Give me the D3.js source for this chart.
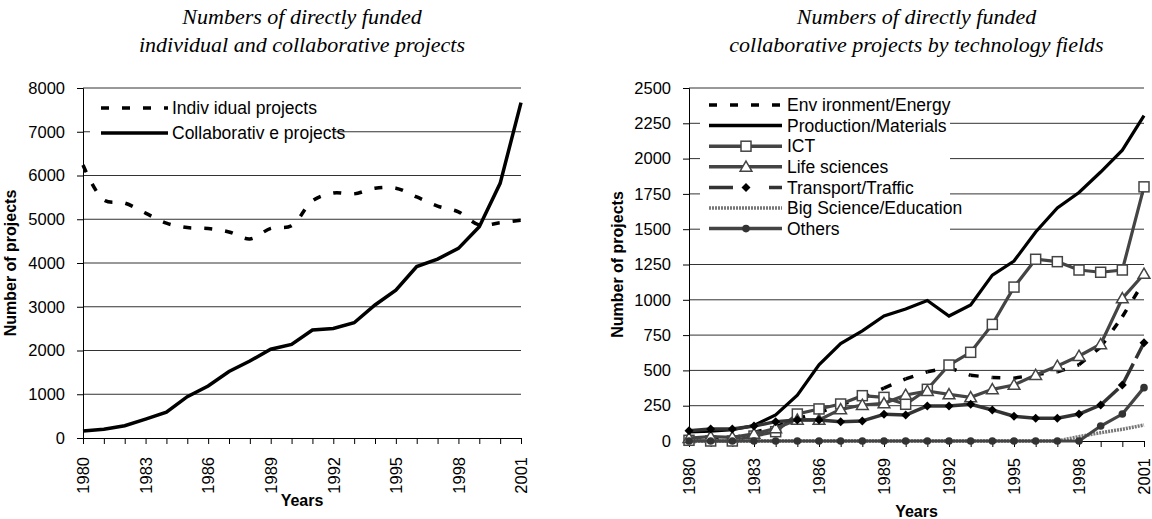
<!doctype html>
<html>
  <head>
    <script src="https://cdnjs.cloudflare.com/ajax/libs/d3/7.8.5/d3.min.js"></script>
    <style>
      body { margin: 0; background: white; }
      text { font-family: "Liberation Sans Narrow", "Arial Narrow", "Liberation Sans", sans-serif; fill: #000; }
      .tick text { font-size: 16.5px; }
      .title { font-family: "Liberation Serif", "Times New Roman", serif; font-style: italic; font-size: 22px; text-anchor: middle; }
      .axisTitle { font-family: "Liberation Sans", Arial, sans-serif; font-size: 16px; font-weight: bold; text-anchor: middle; }
      .legend text { font-size: 17.5px; }
    </style>
  </head>
  <body>
    <svg width="1152" height="519"></svg>
    <script>
      // data
      var years = [1980, 1981, 1982, 1983, 1984, 1985, 1986, 1987, 1988, 1989, 1990,
                   1991, 1992, 1993, 1994, 1995, 1996, 1997, 1998, 1999, 2000, 2001];
      var yearLabels = [1980, 1983, 1986, 1989, 1992, 1995, 1998, 2001];

      var individualProjects = [6240, 5440, 5370, 5140, 4910, 4810, 4790, 4710, 4550, 4790, 4850,
                                5420, 5600, 5580, 5710, 5710, 5510, 5300, 5170, 4870, 4920, 4980];
      var collaborativeProjects = [160, 200, 280, 430, 590, 945, 1190, 1520, 1760, 2030, 2140,
                                   2470, 2505, 2635, 3040, 3380, 3920, 4090, 4335, 4830, 5820, 7665];
      var leftTicks = [0, 1000, 2000, 3000, 4000, 5000, 6000, 7000, 8000];

      var envEnergy = [10, 10, 20, 60, 100, 160, 200, 260, 300, 375, 440,
                       490, 520, 465, 450, 445, 470, 490, 540, 665, 880, 1130];
      var prodMaterials = [65, 70, 80, 110, 185, 325, 540, 690, 780, 885, 935,
                           995, 885, 963, 1175, 1275, 1480, 1650, 1760, 1905, 2060, 2305];
      var ict = [5, 0, 0, 35, 66, 191, 227, 262, 321, 309, 260,
                 366, 538, 628, 826, 1090, 1287, 1270, 1211, 1195, 1211, 1800];
      var lifeSciences = [20, 31, 26, 50, 90, 150, 149, 224, 255, 267, 326,
                          354, 330, 309, 366, 397, 467, 531, 602, 685, 1010, 1183];
      var transportTraffic = [73, 85, 85, 106, 137, 149, 149, 137, 142, 189, 184,
                              248, 248, 260, 220, 175, 161, 161, 191, 255, 397, 696];
      var bigScience = [0, 0, 0, 0, 0, 0, 0, 0, 0, 0, 0,
                        0, 0, 0, 0, 0, 0, 0, 31, 59, 83, 113];
      var others = [0, 0, 0, 0, 0, 0, 0, 0, 0, 0, 0,
                    0, 0, 0, 0, 0, 0, 0, 0, 106, 191, 378];
      var rightTicks = [0, 250, 500, 750, 1000, 1250, 1500, 1750, 2000, 2250, 2500];

      var svg = d3.select("svg");

      function frame(cfg) {
        var g = svg.append("g");
        var x = d3.scaleLinear().domain([1980, 2001]).range([cfg.left, cfg.right]);
        var y = d3.scaleLinear().domain([0, cfg.max]).range([cfg.bottom, cfg.top]);

        // gridlines
        g.selectAll("line.grid")
          .data(cfg.ticks.filter(function(t) { return t > 0; }))
          .enter().append("line")
            .attr("x1", cfg.left).attr("x2", cfg.right)
            .attr("y1", function(d) { return y(d); }).attr("y2", function(d) { return y(d); })
            .attr("stroke", "#333").attr("stroke-width", 1);

        var ya = g.append("g")
          .attr("transform", "translate(" + cfg.left + ",0)")
          .call(d3.axisLeft(y).tickValues(cfg.ticks).tickSize(6).tickPadding(cfg.tickPad).tickFormat(d3.format("d")));
        ya.select(".domain").attr("stroke", "#000");

        var xa = g.append("g")
          .attr("transform", "translate(0," + cfg.bottom + ")")
          .call(d3.axisBottom(x).tickValues(years).tickSize(6)
            .tickFormat(function(d) { return yearLabels.indexOf(d) >= 0 ? d : ""; }));
        xa.select(".domain").attr("stroke", "#000");
        xa.selectAll("text")
          .attr("transform", "rotate(-90)")
          .attr("x", -cfg.labelGap).attr("y", 0).attr("dy", "0.35em")
          .style("text-anchor", "end");

        svg.append("text").attr("class", "title")
          .attr("x", (cfg.left + cfg.right) / 2).attr("y", 24).text(cfg.title[0]);
        svg.append("text").attr("class", "title")
          .attr("x", (cfg.left + cfg.right) / 2).attr("y", 52).text(cfg.title[1]);

        svg.append("text").attr("class", "axisTitle")
          .attr("x", (cfg.left + cfg.right) / 2).attr("y", cfg.yearsY).text("Years");
        svg.append("text").attr("class", "axisTitle")
          .attr("transform", "translate(" + cfg.yTitleX + "," + ((cfg.top + cfg.bottom) / 2) + ") rotate(-90)")
          .text("Number of projects");

        return { g: g, x: x, y: y };
      }

      // ---------- left chart ----------
      var L = frame({ left: 83, right: 521, top: 88, bottom: 438, max: 8000, ticks: leftTicks,
                      tickPad: 12, labelGap: 19, yearsY: 506, yTitleX: 16,
                      title: ["Numbers of directly funded", "individual and collaborative projects"] });

      var lineL = d3.line().x(function(d, i) { return L.x(years[i]); }).y(function(d) { return L.y(d); });

      L.g.append("path").datum(individualProjects)
        .attr("d", lineL.curve(d3.curveCatmullRom.alpha(0.5)))
        .attr("fill", "none").attr("stroke", "#000").attr("stroke-width", 3.5)
        .attr("stroke-dasharray", "8,13");
      L.g.append("path").datum(collaborativeProjects)
        .attr("d", lineL.curve(d3.curveLinear))
        .attr("fill", "none").attr("stroke", "#000").attr("stroke-width", 3.5);

      var legL = svg.append("g").attr("class", "legend");
      legL.append("rect").attr("x", 90).attr("y", 92).attr("width", 243).attr("height", 55).attr("fill", "white");
      var legLItems = [
        { name: "Indiv idual projects", dash: "8,13" },
        { name: "Collaborativ e projects", dash: null }
      ];
      legLItems.forEach(function(it, i) {
        var yy = 108 + i * 25;
        legL.append("line").attr("x1", 101).attr("x2", 168).attr("y1", yy).attr("y2", yy)
          .attr("stroke", "#000").attr("stroke-width", 3.5)
          .attr("stroke-dasharray", it.dash);
        legL.append("text").attr("x", 172).attr("y", yy).attr("dy", "0.35em").text(it.name);
      });

      // ---------- right chart ----------
      var R = frame({ left: 689, right: 1144, top: 88, bottom: 441, max: 2500, ticks: rightTicks,
                      tickPad: 12, labelGap: 17, yearsY: 517, yTitleX: 623,
                      title: ["Numbers of directly funded", "collaborative projects by technology fields"] });

      var lineR = d3.line().x(function(d, i) { return R.x(years[i]); }).y(function(d) { return R.y(d); });

      // dashed series restart the dash at every data point
      function segmented(g, values, color, width, dash) {
        for (var i = 0; i < values.length - 1; i++) {
          g.append("line")
            .attr("x1", R.x(years[i])).attr("y1", R.y(values[i]))
            .attr("x2", R.x(years[i + 1])).attr("y2", R.y(values[i + 1]))
            .attr("stroke", color).attr("stroke-width", width)
            .attr("stroke-dasharray", dash);
        }
      }

      var series = [
        { name: "Env ironment/Energy", data: envEnergy, color: "#000", dash: "8,13", marker: null },
        { name: "Production/Materials", data: prodMaterials, color: "#000", dash: null, marker: null },
        { name: "ICT", data: ict, color: "#444", dash: null, marker: "square" },
        { name: "Life sciences", data: lifeSciences, color: "#444", dash: null, marker: "triangle" },
        { name: "Transport/Traffic", data: transportTraffic, color: "#333", dash: "24,6", marker: "diamond" },
        { name: "Big Science/Education", data: bigScience, color: "#777", dash: "2,1", marker: null },
        { name: "Others", data: others, color: "#444", dash: null, marker: "circle" }
      ];

      function marker(g, type, cx, cy) {
        if (type === "square") {
          g.append("rect").attr("x", cx - 5).attr("y", cy - 5).attr("width", 10).attr("height", 10)
            .attr("fill", "white").attr("stroke", "#444").attr("stroke-width", 1.5);
        } else if (type === "triangle") {
          g.append("path").attr("d", d3.symbol(d3.symbolTriangle, 60)())
            .attr("transform", "translate(" + cx + "," + (cy + 1) + ")")
            .attr("fill", "white").attr("stroke", "#444").attr("stroke-width", 1.5);
        } else if (type === "diamond") {
          g.append("path").attr("d", "M0,-4.5L4.5,0L0,4.5L-4.5,0Z")
            .attr("transform", "translate(" + cx + "," + cy + ")").attr("fill", "#000");
        } else if (type === "circle") {
          g.append("circle").attr("cx", cx).attr("cy", cy).attr("r", 3.8).attr("fill", "#333");
        }
      }

      series.forEach(function(s) {
        var g = R.g.append("g");
        if (s.dash === "8,13" || s.dash === "24,6") {
          segmented(g, s.data, s.color, 3.5, s.dash);
        } else {
          g.append("path").datum(s.data).attr("d", lineR)
            .attr("fill", "none").attr("stroke", s.color).attr("stroke-width", s.dash ? 3.5 : 3.2)
            .attr("stroke-dasharray", s.dash);
        }
        if (s.marker) {
          s.data.forEach(function(v, i) { marker(g, s.marker, R.x(years[i]), R.y(v)); });
        }
      });

      var legR = svg.append("g").attr("class", "legend");
      legR.append("rect").attr("x", 700).attr("y", 94).attr("width", 250).attr("height", 145).attr("fill", "white");
      series.forEach(function(s, i) {
        var yy = 105 + i * 20.6;
        legR.append("line").attr("x1", 709).attr("x2", 782).attr("y1", yy).attr("y2", yy)
          .attr("stroke", s.color).attr("stroke-width", 3.5)
          .attr("stroke-dasharray", s.dash === "24,6" ? "24,6,0,30,24" : s.dash);
        if (s.marker) marker(legR, s.marker, 746, yy);
        legR.append("text").attr("x", 787).attr("y", yy).attr("dy", "0.35em").text(s.name);
      });
    </script>
  </body>
</html>
